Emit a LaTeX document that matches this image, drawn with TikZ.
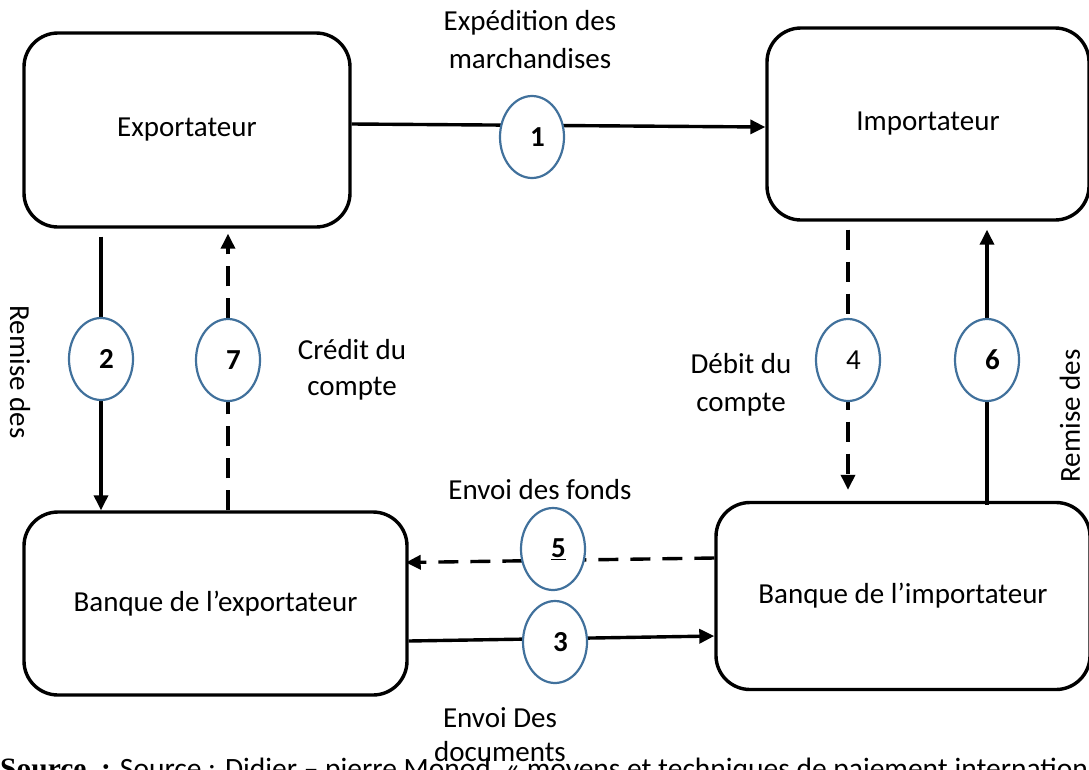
\documentclass[tikz,border=0pt]{standalone}
\usepackage{fontspec}
\setmainfont{Carlito}
\newfontfamily\serifsrc{Liberation Serif}
\usetikzlibrary{shapes.geometric}
\usetikzlibrary{arrows.meta}
\usetikzlibrary{backgrounds}
\definecolor{ovalblue}{RGB}{65,113,156}
\tikzset{x=1pt, y=-1pt,
every node/.style={font=\fontsize{29}{38}\selectfont},
box/.style={
draw, line width=3.4pt,
rounded corners=34pt},
oval/.style={
ellipse, draw=ovalblue, line width=2.2pt,
fill=white, minimum width=64pt, minimum height=82pt,
inner sep=0pt, execute at begin node=\kern11pt},
arr/.style={
line width=3.4pt,
-{Triangle[length=15pt,width=14pt]}},
dashline/.style={dash pattern=on 20pt off 12pt},
txt/.style={align=center}}

\begin{document}
\begin{tikzpicture}
\useasboundingbox (0,0) rectangle (1089,769);
\node[box, minimum width=326pt, minimum height=194pt] (exp) at (187,130) {Exportateur};
\node[box, minimum width=322pt, minimum height=192pt] (imp) at (928,124) {Importateur};
\node[box, minimum width=383pt, minimum height=183pt] (bex) at (215.5,603.5) {Banque de l’exportateur};
\node[box, minimum width=374pt, minimum height=187pt] (bim) at (903,596) {Banque de l’importateur};

\node[oval] (n1) at (532,137) {\bfseries 1};
\node[oval] (n2) at (101,359) {\bfseries 2};
\node[oval] (n7) at (228,360) {\bfseries 7};
\node[oval] (n4) at (848,360) {4};
\node[oval] (n6) at (987,360) {\bfseries 6};
\node[oval] (n5) at (553,549) {\bfseries\underline{5}};
\node[oval] (n3) at (555,642) {\bfseries 3};

\begin{pgfonlayer}{background}
\draw[arr] ([yshift=6pt]exp.east) -- ([yshift=-3pt]imp.west);
\draw[arr] ([yshift=-8pt]exp.south -| n2) -- (bex.north -| n2);
\draw[arr, dashline] (bex.north -| n7) -- ([yshift=-5pt]exp.south -| n7);
\draw[arr, dashline] ([yshift=-8pt]imp.south -| n4) -- ([yshift=11pt]bim.north -| n4);
\draw[arr] ([yshift=-4pt]bim.north -| n6) -- ([yshift=-8pt]imp.south -| n6);
\draw[arr, dashline] ([yshift=38pt]bim.west) -- ([yshift=41pt,xshift=-3pt]bex.east);
\draw[arr] ([yshift=-37.5pt]bex.east) -- ([yshift=-40pt]bim.west);
\end{pgfonlayer}

\node[txt] (t1) at (530,40) {Expédition des\\marchandises};
\node[txt, font=\fontsize{29}{36}\selectfont] (t7) at (352,370) {Crédit du\\compte};
\node[txt] (t4) at (741,385) {Débit du\\compte};
\node (t5) at (540,490) {Envoi des fonds};
\node[txt, font=\fontsize{29}{34}\selectfont] (t3) at (500,735) {Envoi Des\\documents};
\node[rotate=-90] (r2) at (20,372) {Remise des};
\node[rotate=90] (r6) at (1070,416) {Remise des};
\node[anchor=base west, inner sep=0pt, font=\fontsize{29.5}{34}\selectfont] (src) at (0,778)
{{\serifsrc\bfseries Source\ \ :} Source : Didier – pierre Monod, « moyens et techniques de paiement internationaux »};
\end{tikzpicture}
\end{document}
